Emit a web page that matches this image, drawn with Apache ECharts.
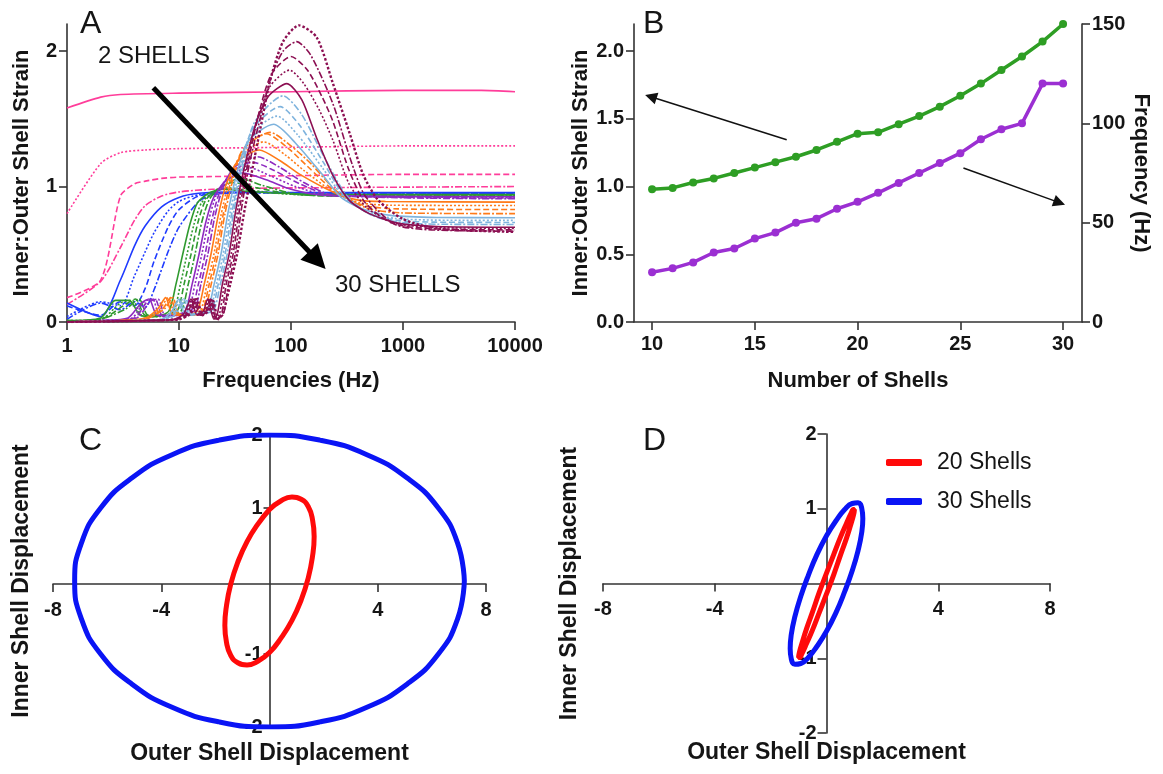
<!DOCTYPE html>
<html>
<head>
<meta charset="utf-8">
<script src="https://cdn.jsdelivr.net/npm/echarts@6/dist/echarts.min.js"></script>
<style>
  html, body { margin: 0; padding: 0; background: #fff; }
  #chart { width: 1163px; height: 774px; }
</style>
</head>
<body>
<div id="chart"></div>
<script>
// ---------- Panel A: inner:outer strain vs frequency, one curve per shell count ----------
const strain2 = [[1,1.58],[2,1.66],[3,1.68],[10,1.69],[100,1.70],[1000,1.71],[5000,1.71],[10000,1.70]];
const strain3 = [[1,0.80],[2,1.17],[3,1.25],[5,1.27],[10,1.28],[100,1.29],[1000,1.30],[10000,1.30]];
const strain4 = [[1,0.18],[2,0.31],[3,0.93],[4,1.02],[5,1.04],[7,1.06],[10,1.07],[100,1.08],[1000,1.09],[10000,1.09]];
const strain5 = [[1,0.13],[2,0.30],[3,0.55],[4,0.75],[5,0.86],[7,0.93],[10,0.96],[20,0.98],[100,0.99],[10000,1.0]];
const strain6 = [[1,0.14],[2,0.04],[3,0.31],[4,0.56],[5,0.71],[7,0.85],[10,0.92],[15,0.95],[30,0.96],[100,0.955],[10000,0.955]];
const strain7 = [[1,0.04],[2,0.15],[3,0.12],[4,0.34],[5,0.52],[6,0.66],[8,0.82],[10,0.89],[15,0.94],[30,0.955],[10000,0.95]];
const strain8 = [[1,0.12],[2,0.05],[3,0.15],[4,0.12],[5,0.25],[6,0.45],[8,0.70],[10,0.83],[15,0.93],[30,0.955],[10000,0.95]];
const strain9 = [[1,0.02],[2,0.14],[3,0.09],[4,0.15],[5,0.11],[6,0.24],[8,0.52],[10,0.70],[15,0.89],[20,0.94],[40,0.955],[10000,0.945]];
const strain10 = [[1,0.01],[2,0.03],[2.7,0.16],[3.6,0.16],[4.5,0.05],[6,0.04],[8.1,0.08],[9.4,0.28],[10.8,0.5],[12.5,0.72],[14.6,0.88],[18.4,0.95],[25,0.98],[40,0.965],[80,0.95],[200,0.94],[10000,0.94]];
const strain11 = [[1,0.01],[2,0.02],[3,0.14],[3.8,0.16],[4.8,0.04],[6.5,0.04],[8.9,0.08],[10.3,0.28],[11.8,0.5],[13.6,0.72],[15.9,0.88],[20,0.95],[27,0.99],[45,0.97],[90,0.945],[200,0.935],[10000,0.935]];
const strain12 = [[1,0.01],[2,0.02],[3.2,0.12],[4.1,0.17],[5,0.05],[7,0.05],[9.6,0.08],[11.1,0.28],[12.8,0.5],[14.7,0.73],[17.3,0.9],[22,0.98],[30,1.03],[50,0.99],[100,0.945],[250,0.93],[10000,0.93]];
const strain13 = [[1,0],[2,0.02],[3.4,0.1],[4.4,0.17],[5.3,0.05],[7.5,0.05],[10.4,0.08],[12.1,0.28],[13.9,0.5],[16,0.74],[18.8,0.91],[24,1.0],[35,1.06],[55,1.01],[110,0.945],[300,0.93],[10000,0.93]];
const strain14 = [[1,0],[2,0.01],[3.5,0.03],[4.6,0.14],[5.4,0.17],[6.4,0.05],[8.5,0.05],[11.3,0.08],[13.1,0.28],[15.1,0.5],[17.4,0.74],[20.4,0.92],[26,1.04],[37,1.1],[60,1.05],[100,0.98],[200,0.935],[10000,0.925]];
const strain15 = [[1,0],[2,0.01],[3.8,0.03],[4.9,0.15],[5.8,0.17],[6.8,0.04],[9,0.05],[12,0.08],[13.9,0.28],[16,0.5],[18.4,0.75],[21.6,0.94],[27,1.06],[42,1.14],[65,1.08],[110,1.0],[220,0.935],[10000,0.92]];
const strain16 = [[1,0],[2,0.01],[4,0.03],[5.2,0.15],[6.1,0.17],[7.2,0.04],[9.6,0.05],[12.8,0.08],[14.9,0.28],[17.1,0.5],[19.7,0.76],[23.1,0.96],[29,1.1],[45,1.18],[70,1.12],[120,1.02],[230,0.935],[10000,0.915]];
const strain17 = [[1,0],[2,0.01],[4.2,0.03],[5.5,0.15],[6.5,0.17],[7.6,0.04],[10,0.05],[13.6,0.08],[15.7,0.28],[18.1,0.5],[20.8,0.77],[24.4,0.98],[31,1.14],[50,1.22],[80,1.14],[130,1.03],[240,0.935],[10000,0.91]];
const strain18 = [[1,0],[3,0.01],[5,0.03],[6.5,0.1],[7.6,0.18],[8.7,0.06],[11,0.05],[14.5,0.08],[16.8,0.28],[19.3,0.5],[22.2,0.77],[26,1.0],[33,1.18],[52,1.27],[80,1.19],[120,1.09],[237,0.96],[400,0.9],[700,0.89],[10000,0.885]];
const strain19 = [[1,0],[3,0.01],[5,0.02],[6.8,0.1],[8,0.18],[9.2,0.06],[11.5,0.05],[15.4,0.08],[17.8,0.28],[20.5,0.5],[23.6,0.78],[27.7,1.02],[35,1.22],[57,1.33],[90,1.23],[130,1.12],[240,0.96],[420,0.88],[800,0.862],[10000,0.86]];
const strain20 = [[1,0],[3,0.01],[5,0.02],[7.2,0.1],[8.4,0.18],[9.6,0.06],[12,0.05],[16,0.08],[18.6,0.28],[21.4,0.5],[24.6,0.78],[28.9,1.03],[37,1.27],[60,1.39],[95,1.28],[140,1.15],[250,0.96],[450,0.86],[900,0.835],[10000,0.83]];
const strain21 = [[1,0],[3,0.01],[5,0.02],[7.5,0.1],[8.8,0.18],[10,0.06],[12.5,0.05],[16.7,0.08],[19.4,0.28],[22.3,0.5],[25.6,0.79],[30.1,1.04],[38,1.28],[65,1.4],[100,1.3],[150,1.17],[260,0.96],[480,0.84],[1000,0.805],[10000,0.8]];
const strain22 = [[1,0],[4,0.01],[7,0.02],[8.6,0.08],[10,0.17],[11.4,0.05],[13.5,0.06],[17.8,0.08],[20.6,0.28],[23.7,0.5],[27.3,0.8],[32,1.06],[41,1.33],[70,1.46],[110,1.32],[194,1.08],[280,0.92],[450,0.83],[800,0.785],[2000,0.772],[10000,0.77]];
const strain23 = [[1,0],[4,0.01],[7,0.02],[9,0.08],[10.5,0.17],[12,0.05],[14,0.06],[18.6,0.08],[21.6,0.28],[24.8,0.5],[28.5,0.8],[33.5,1.07],[43,1.37],[75,1.52],[115,1.38],[194,1.13],[290,0.93],[480,0.81],[850,0.765],[2000,0.752],[10000,0.75]];
const strain24 = [[1,0],[4,0.01],[7.5,0.02],[9.4,0.08],[11,0.17],[12.5,0.05],[14.5,0.06],[19.4,0.08],[22.4,0.28],[25.8,0.5],[29.7,0.81],[34.8,1.08],[45,1.42],[80,1.59],[120,1.45],[194,1.18],[300,0.93],[500,0.8],[900,0.75],[2000,0.737],[10000,0.735]];
const strain25 = [[1,0],[4,0.01],[8,0.02],[9.8,0.08],[11.5,0.17],[13,0.05],[15,0.06],[20.2,0.08],[23.4,0.28],[26.9,0.5],[30.9,0.82],[36.3,1.1],[47,1.47],[85,1.67],[125,1.53],[194,1.23],[310,0.94],[520,0.79],[950,0.735],[2000,0.722],[10000,0.72]];
const strain26 = [[1,0],[5,0.01],[9,0.02],[11,0.06],[12.8,0.17],[14.5,0.05],[16.5,0.08],[18,0.17],[20.5,0.02],[22,0.06],[24.4,0.28],[28,0.5],[32.2,0.83],[37.8,1.12],[48,1.45],[62,1.66],[92,1.76],[125,1.64],[169,1.36],[237,1.08],[330,0.9],[500,0.8],[900,0.73],[2000,0.705],[10000,0.7]];
const strain27 = [[1,0],[5,0.01],[9,0.02],[11.4,0.06],[13.2,0.17],[15,0.05],[17,0.08],[18.6,0.17],[21,0.02],[23,0.06],[25.4,0.28],[29.2,0.5],[33.6,0.84],[39.4,1.14],[50,1.5],[65,1.74],[97,1.86],[130,1.76],[180,1.56],[237,1.34],[330,1.02],[480,0.84],[850,0.73],[1800,0.7],[10000,0.69]];
const strain28 = [[1,0],[5,0.01],[9.5,0.02],[11.8,0.06],[13.6,0.17],[15.4,0.05],[17.4,0.08],[19,0.17],[21.5,0.02],[24,0.06],[26.4,0.28],[30.4,0.5],[35,0.85],[41,1.16],[52,1.55],[67,1.83],[100,1.96],[140,1.86],[190,1.66],[237,1.48],[330,1.12],[460,0.88],[800,0.73],[1700,0.69],[10000,0.68]];
const strain29 = [[1,0],[5,0.01],[10,0.02],[12.2,0.06],[14,0.17],[15.8,0.05],[17.8,0.08],[19.4,0.17],[22,0.02],[25,0.06],[27.6,0.28],[31.7,0.5],[36.5,0.86],[42.8,1.18],[53,1.5],[66,1.8],[85,2.0],[112,2.07],[150,1.97],[237,1.61],[340,1.2],[460,0.93],[850,0.72],[1800,0.68],[10000,0.67]];
const strain30 = [[1,0],[5,0.01],[10,0.02],[12.6,0.06],[14.5,0.17],[16.2,0.05],[18.2,0.08],[19.8,0.17],[22.5,0.02],[25,0.08],[28.7,0.28],[33,0.5],[38,0.8],[44.5,1.1],[53,1.42],[65,1.78],[85,2.07],[118,2.19],[170,2.1],[237,1.76],[335,1.39],[440,1.09],[600,0.9],[1000,0.76],[2000,0.69],[10000,0.665]];

// ---------- Panel B: peak strain and resonant frequency vs number of shells ----------
const shellCounts = [10,11,12,13,14,15,16,17,18,19,20,21,22,23,24,25,26,27,28,29,30];
const peakStrain = [0.98,0.99,1.03,1.06,1.10,1.14,1.18,1.22,1.27,1.33,1.39,1.40,1.46,1.52,1.59,1.67,1.76,1.86,1.96,2.07,2.20];
const peakFrequency = [25,27,30,35,37,42,45,50,52,57,60.5,65,70,75,80,85,92,97,100,120,120];
const strainTicks = [0, 0.5, 1.0, 1.5, 2.0];
const shellTicks = [10, 15, 20, 25, 30];

// ---------- Panels C and D: inner vs outer shell displacement loops ----------
const loopC20 = [[0,0.98],[0.43,1.10],[0.83,1.15],[1.17,1.12],[1.43,1.02],[1.59,0.84],[1.65,0.61],[1.59,0.34],[1.43,0.04],[1.17,-0.26],[0.83,-0.54],[0.43,-0.78],[0,-0.98],[-0.43,-1.10],[-0.83,-1.15],[-1.17,-1.12],[-1.43,-1.02],[-1.59,-0.84],[-1.65,-0.61],[-1.59,-0.34],[-1.43,-0.04],[-1.17,0.26],[-0.83,0.54],[-0.43,0.78],[0,0.98]];
const loopC30 = [[7.2,0],[6.95,0.52],[6.24,1.0],[5.09,1.41],[3.6,1.73],[1.86,1.93],[0,2.0],[-1.86,1.93],[-3.6,1.73],[-5.09,1.41],[-6.24,1.0],[-6.95,0.52],[-7.2,0],[-6.95,-0.52],[-6.24,-1.0],[-5.09,-1.41],[-3.6,-1.73],[-1.86,-1.93],[0,-2.0],[1.86,-1.93],[3.6,-1.73],[5.09,-1.41],[6.24,-1.0],[6.95,-0.52],[7.2,0]];
const loopD20 = [[0,0.14],[0.26,0.39],[0.5,0.62],[0.71,0.80],[0.87,0.93],[0.97,0.99],[1.0,0.99],[0.97,0.92],[0.87,0.79],[0.71,0.60],[0.5,0.38],[0.26,0.12],[0,-0.14],[-0.26,-0.39],[-0.5,-0.62],[-0.71,-0.80],[-0.87,-0.93],[-0.97,-0.99],[-1.0,-0.99],[-0.97,-0.92],[-0.87,-0.79],[-0.71,-0.60],[-0.5,-0.38],[-0.26,-0.12],[0,0.14]];
const loopD30 = [[0,0.64],[0.34,0.84],[0.65,0.99],[0.92,1.07],[1.13,1.08],[1.26,1.01],[1.3,0.87],[1.26,0.68],[1.13,0.44],[0.92,0.17],[0.65,-0.11],[0.34,-0.39],[0,-0.64],[-0.34,-0.84],[-0.65,-0.99],[-0.92,-1.07],[-1.13,-1.08],[-1.26,-1.01],[-1.3,-0.87],[-1.26,-0.68],[-1.13,-0.44],[-0.92,-0.17],[-0.65,0.11],[-0.34,0.39],[0,0.64]];
const displacementXTicks = [-8, -4, 4, 8];
const displacementYTicks = [-2, -1, 1, 2];

// ---------- styling ----------
const FONT = '"Liberation Sans", Arial, Helvetica, sans-serif';
const INK = '#151515';
const AXIS_COLOR = '#333';
const groupColors = ['#ff3d9a', '#1f3bff', '#2f9a2f', '#8e2bc0', '#ff7a18', '#7eb3dd', '#8c0f52'];
const dashPatterns = ['solid', [2, 2], [6, 3], [7, 2, 2, 2]];

const tickLabel = { fontFamily: FONT, fontWeight: 'bold', fontSize: 20, color: INK };
const axisName = { fontFamily: FONT, fontWeight: 'bold', fontSize: 22, color: INK };
const bigName = Object.assign({}, axisName, { fontSize: 23 });
const line = { lineStyle: { color: AXIS_COLOR, width: 1.6 } };
const crossLine = { onZero: false, lineStyle: { color: AXIS_COLOR, width: 1.6 } };
const tick = (len, extra) => Object.assign({ length: len, lineStyle: { color: AXIS_COLOR, width: 1.6 } }, extra || {});

const strainSets = [strain2, strain3, strain4, strain5, strain6, strain7, strain8, strain9, strain10,
  strain11, strain12, strain13, strain14, strain15, strain16, strain17, strain18, strain19, strain20,
  strain21, strain22, strain23, strain24, strain25, strain26, strain27, strain28, strain29, strain30];

const series = [];
strainSets.forEach((data, i) => {
  const n = i + 2;
  const g = Math.min(6, Math.floor((n - 2) / 4));
  const s = {
    type: 'line', name: n + ' shells', xAxisIndex: 0, yAxisIndex: 0,
    data: data, showSymbol: false, smooth: 0.25, silent: true, z: 2,
    lineStyle: {
      color: groupColors[g],
      width: n === 30 ? 2.4 : 1.6,
      type: n === 30 ? [2.5, 2] : dashPatterns[(n - 2) % 4]
    }
  };
  if (n === 30) {
    // trend arrow from 2 shells toward 30 shells
    s.markLine = {
      silent: true, symbol: ['none', 'triangle'], symbolSize: 24,
      label: { show: false }, emphasis: { disabled: true },
      lineStyle: { color: '#000', width: 5, type: 'solid' },
      data: [[{ coord: [5.9, 1.73] }, { coord: [172, 0.456] }]]
    };
  }
  series.push(s);
});

series.push({
  type: 'line', name: 'Peak strain', xAxisIndex: 1, yAxisIndex: 1,
  data: shellCounts.map((n, i) => [n, peakStrain[i]]),
  symbol: 'circle', symbolSize: 8, silent: true,
  itemStyle: { color: '#2e9e24' }, lineStyle: { color: '#2e9e24', width: 3.5 },
  markLine: {
    silent: true, symbol: ['none', 'triangle'], symbolSize: 12,
    label: { show: false }, emphasis: { disabled: true },
    lineStyle: { color: '#111', width: 1.5, type: 'solid' },
    data: [
      [{ coord: [16.55, 1.345] }, { coord: [9.94, 1.663] }],
      [{ coord: [25.15, 1.137] }, { coord: [29.82, 0.881] }]
    ]
  }
});
series.push({
  type: 'line', name: 'Peak frequency', xAxisIndex: 1, yAxisIndex: 2,
  data: shellCounts.map((n, i) => [n, peakFrequency[i]]),
  symbol: 'circle', symbolSize: 8, silent: true,
  itemStyle: { color: '#9b2fd2' }, lineStyle: { color: '#9b2fd2', width: 3.5 }
});

const loopStyle = (color) => ({
  showSymbol: false, smooth: 0.5, silent: true,
  lineStyle: { color: color, width: 5 }, itemStyle: { color: color }
});
series.push(Object.assign({ type: 'line', name: '30 Shells', xAxisIndex: 2, yAxisIndex: 3, data: loopC30 }, loopStyle('#0a14f5')));
series.push(Object.assign({ type: 'line', name: '20 Shells', xAxisIndex: 2, yAxisIndex: 3, data: loopC20 }, loopStyle('#ff0a0a')));
series.push(Object.assign({ type: 'line', name: '30 Shells', xAxisIndex: 3, yAxisIndex: 4, data: loopD30 }, loopStyle('#0a14f5')));
series.push(Object.assign({ type: 'line', name: '20 Shells', xAxisIndex: 3, yAxisIndex: 4, data: loopD20 }, loopStyle('#ff0a0a')));

const panelText = (text, x, y, size) => ({
  type: 'text', x: x, y: y, silent: true,
  style: { text: text, fontFamily: FONT, fontSize: size, fill: INK, verticalAlign: 'middle', align: 'left' }
});

// crossing axes for the displacement panels, shifted onto the zero lines
const crossX = (grid, offset) => ({
  gridIndex: grid, type: 'value', min: -8, max: 8, interval: 4, offset: offset,
  name: 'Outer Shell Displacement', nameLocation: 'middle', nameGap: 158, nameTextStyle: bigName,
  axisLine: crossLine, axisTick: tick(8, { customValues: displacementXTicks }), splitLine: { show: false },
  axisLabel: Object.assign({ margin: 16, customValues: displacementXTicks }, tickLabel)
});
const crossY = (grid, offset, gap, tickLen, margin) => ({
  gridIndex: grid, type: 'value', min: -2, max: 2, interval: 1, offset: offset,
  name: 'Inner Shell Displacement', nameLocation: 'middle', nameGap: gap, nameTextStyle: bigName,
  axisLine: crossLine, axisTick: tick(tickLen, { customValues: displacementYTicks }), splitLine: { show: false },
  axisLabel: Object.assign({ margin: margin, customValues: displacementYTicks }, tickLabel)
});

const option = {
  animation: false,
  backgroundColor: '#fff',
  grid: [
    { left: 67, top: 24, width: 448, height: 298, outerBoundsMode: 'none' },
    { left: 634, top: 24, width: 448, height: 298, outerBoundsMode: 'none' },
    { left: 53, top: 435, width: 433, height: 292, outerBoundsMode: 'none' },
    { left: 603, top: 434, width: 447, height: 299, outerBoundsMode: 'none' }
  ],
  xAxis: [
    {
      gridIndex: 0, type: 'log', logBase: 10, min: 1, max: 10000,
      name: 'Frequencies (Hz)', nameLocation: 'middle', nameGap: 48, nameTextStyle: axisName,
      axisLine: line, axisTick: tick(8), splitLine: { show: false }, minorTick: { show: false },
      axisLabel: Object.assign({ margin: 14, formatter: v => String(Math.round(v)) }, tickLabel)
    },
    {
      gridIndex: 1, type: 'value', min: 9.12, max: 30.92,
      name: 'Number of Shells', nameLocation: 'middle', nameGap: 48, nameTextStyle: axisName,
      axisLine: line, axisTick: tick(8, { customValues: shellTicks }), splitLine: { show: false },
      axisLabel: Object.assign({ margin: 12, customValues: shellTicks }, tickLabel)
    },
    crossX(2, -143),
    crossX(3, -149.5)
  ],
  yAxis: [
    {
      gridIndex: 0, type: 'value', min: 0, max: 2.2,
      name: 'Inner:Outer Shell Strain', nameLocation: 'middle', nameGap: 34, nameTextStyle: axisName,
      axisLine: line, axisTick: tick(8, { customValues: [0, 1, 2] }), splitLine: { show: false },
      axisLabel: Object.assign({ margin: 10, customValues: [0, 1, 2] }, tickLabel)
    },
    {
      gridIndex: 1, type: 'value', min: 0, max: 2.2, position: 'left',
      name: 'Inner:Outer Shell Strain', nameLocation: 'middle', nameGap: 38, nameTextStyle: axisName,
      axisLine: line, axisTick: tick(8, { customValues: strainTicks }), splitLine: { show: false },
      axisLabel: Object.assign({ margin: 10, customValues: strainTicks, formatter: v => v.toFixed(1) }, tickLabel)
    },
    {
      gridIndex: 1, type: 'value', min: 0, max: 150, interval: 50, position: 'right',
      name: 'Frequency (Hz)', nameLocation: 'middle', nameGap: 48, nameRotate: -90, nameTextStyle: axisName,
      axisLine: Object.assign({ show: true }, line), axisTick: tick(8), splitLine: { show: false },
      axisLabel: Object.assign({ margin: 10 }, tickLabel)
    },
    crossY(2, -216.5, 236, 6, 7),
    crossY(3, -223.5, 245, 9, 10)
  ],
  legend: {
    data: ['20 Shells', '30 Shells'],
    orient: 'vertical', left: 881, top: 446, itemGap: 16,
    itemWidth: 36, itemHeight: 7, icon: 'roundRect', selectedMode: false,
    textStyle: { fontFamily: FONT, fontSize: 23, color: INK, padding: [0, 0, 0, 10] }
  },
  graphic: [
    panelText('A', 80, 24, 32),
    panelText('B', 643, 24, 32),
    panelText('C', 79, 441, 32),
    panelText('D', 643, 441, 32),
    panelText('2 SHELLS', 98, 56, 24),
    panelText('30 SHELLS', 335, 285, 24)
  ],
  series: series
};

const chart = echarts.init(document.getElementById('chart'), null, { renderer: 'canvas' });
chart.setOption(option);
</script>
</body>
</html>
